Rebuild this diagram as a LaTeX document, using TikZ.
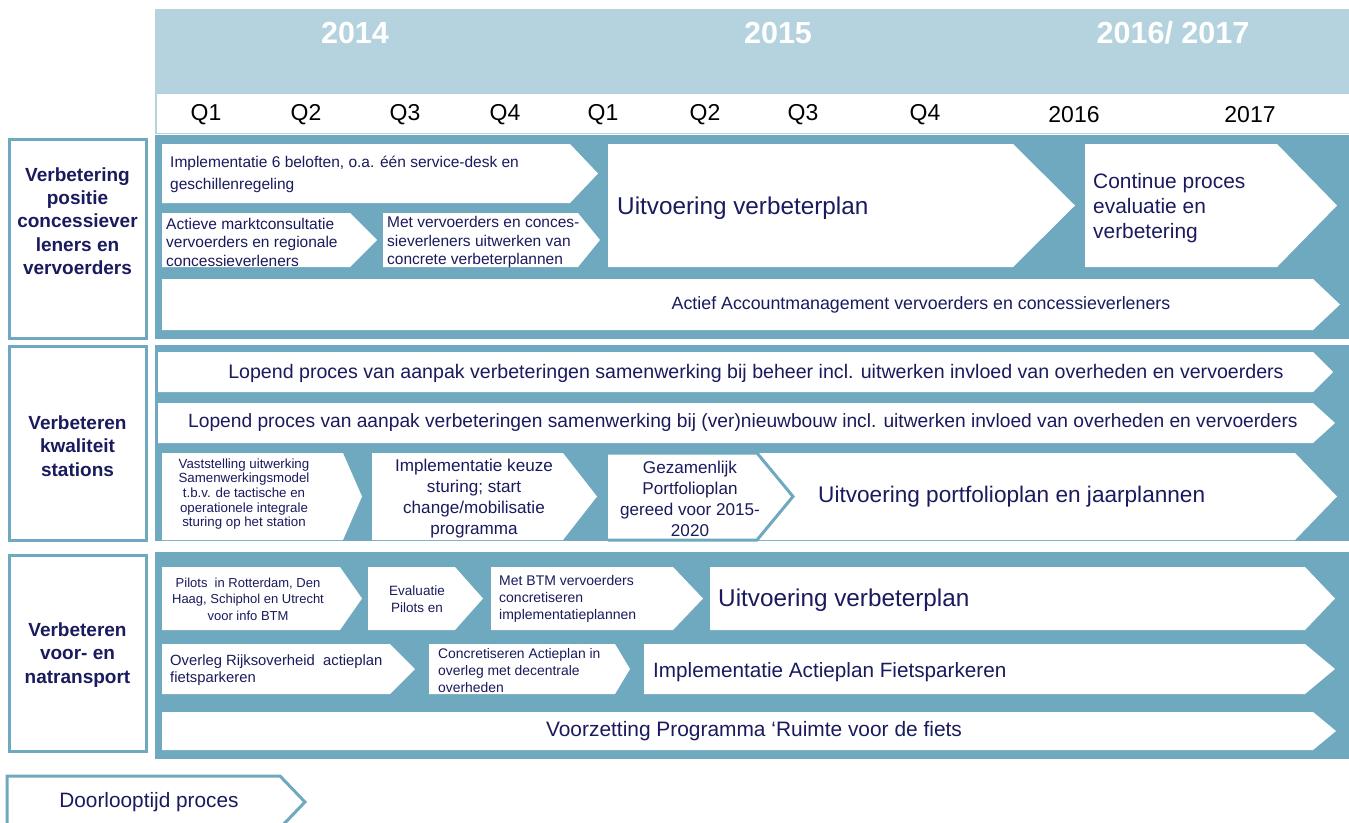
\documentclass[tikz,border=0pt]{standalone}
\usepackage{fontspec}
\setmainfont{Liberation Sans}
\definecolor{band}{RGB}{111,169,191}
\definecolor{head}{RGB}{180,211,222}
\definecolor{navy}{RGB}{26,26,94}
\newcommand\chv[6][white]{\fill[#1] (#2,#3) -- (#4,#3) -- (#5,{(#3+#6)/2}) -- (#4,#6) -- (#2,#6) -- cycle;}
\tikzset{
  txt/.style={inner sep=0pt, text=navy, font=\fontsize{15.5}{19}\selectfont},
  lbl/.style={inner sep=0pt, text=navy, align=center, font=\bfseries\fontsize{19}{23.3}\selectfont},
  yr/.style={inner sep=0pt, text=white, font=\bfseries\fontsize{30.5}{34}\selectfont},
  qt/.style={inner sep=0pt, text=black, font=\fontsize{23}{26}\selectfont},
  lbox/.style={draw=band, line width=3pt, fill=white},
}
\begin{document}
\begin{tikzpicture}[x=1pt,y=-1pt]
\useasboundingbox (0,0) rectangle (1349,822);
% header
\fill[head] (156,9) rectangle (1349,94);
\draw[head, line width=1.5pt] (156,9) -- (156,134);
\draw[head, line width=1pt] (156,133) -- (1349,133);
\node[yr] (y14) at (355,33) {2014};
\node[yr] (y15) at (778,33) {2015};
\node[yr] (y16) at (1173,33) {2016/ 2017};
\node[qt] (q1) at (206,115) {Q1};
\node[qt] (q2) at (306,115) {Q2};
\node[qt] (q3) at (405,115) {Q3};
\node[qt] (q4) at (505,115) {Q4};
\node[qt] (q5) at (603,115) {Q1};
\node[qt] (q6) at (705,115) {Q2};
\node[qt] (q7) at (803,115) {Q3};
\node[qt] (q8) at (925,115) {Q4};
\node[qt] (q9) at (1074,115) {2016};
\node[qt] (q10) at (1250,115) {2017};
% bands
\fill[band] (155,135) rectangle (1349,339);
\fill[band] (155,345) rectangle (1349,541);
\fill[band] (155,552) rectangle (1349,759);
% label boxes
\draw[lbox] (9,139) rectangle (146,338);
\draw[lbox] (9,346) rectangle (146,540);
\draw[lbox] (9,555) rectangle (146,751);
\node[lbl] (l1) at (77.5,221) {Verbetering\\positie\\concessiever\\leners en\\vervoerders};
\node[lbl] (l2) at (77.5,446) {Verbeteren\\kwaliteit\\stations};
\node[lbl] (l3) at (77.5,655) {Verbeteren\\voor- en\\natransport};
% band 1
\chv{162}{144}{570}{598}{203}
\chv{162}{213}{350}{377}{267}
\chv{383}{213}{578}{600}{267}
\chv{608}{144}{1013}{1075}{267}
\chv{1085}{144}{1277}{1337}{267}
\chv{162}{279}{1313}{1340}{330}
\node[txt, anchor=west, align=left, font=\fontsize{15.5}{22}\selectfont] (a1) at (170,174) {Implementatie 6 beloften, o.a. één service-desk en\\geschillenregeling};
\node[txt, anchor=west, align=left, font=\fontsize{15.5}{18.5}\selectfont] (a2) at (166,242) {Actieve marktconsultatie\\vervoerders en regionale\\concessieverleners};
\node[txt, anchor=west, align=left, font=\fontsize{15.5}{18.5}\selectfont] (a3) at (387,242) {Met vervoerders en conces-\\sieverleners uitwerken van\\concrete verbeterplannen};
\node[txt, anchor=west, font=\fontsize{24.3}{28}\selectfont] (a4) at (617,208) {Uitvoering verbeterplan};
\node[txt, anchor=west, align=left, font=\fontsize{20.9}{25}\selectfont] (a5) at (1093,208) {Continue proces\\evaluatie en\\verbetering};
\node[txt, font=\fontsize{17.8}{20}\selectfont] (a6) at (921,305) {Actief Accountmanagement vervoerders en concessieverleners};
% band 2
\chv{158}{352}{1313}{1333}{392}
\chv{158}{403}{1313}{1335}{443}
\chv{162}{453}{343}{362}{540}
\chv{372}{453}{563}{597}{540}
\chv{740}{453}{1295}{1337}{540}
\filldraw[fill=white, draw=band, line width=3pt] (608,453) -- (757,453) -- (793,496.5) -- (757,540) -- (608,540);
\node[txt, font=\fontsize{19.6}{22}\selectfont] (b1) at (756,373) {Lopend proces van aanpak verbeteringen samenwerking bij beheer incl. uitwerken invloed van overheden en vervoerders};
\node[txt, font=\fontsize{19.2}{22}\selectfont] (b2) at (743,423) {Lopend proces van aanpak verbeteringen samenwerking bij (ver)nieuwbouw incl. uitwerken invloed van overheden en vervoerders};
\node[txt, align=center, font=\fontsize{13.3}{14.6}\selectfont] (b3) at (244,494) {Vaststelling uitwerking\\Samenwerkingsmodel\\t.b.v. de tactische en\\operationele integrale\\sturing op het station};
\node[txt, align=center, font=\fontsize{17.1}{21}\selectfont] (b4) at (474,499) {Implementatie keuze\\sturing; start\\change/mobilisatie\\programma};
\node[txt, align=center, font=\fontsize{17.1}{21}\selectfont] (b5) at (690,499) {Gezamenlijk\\Portfolioplan\\gereed voor 2015-\\2020};
\node[txt, anchor=west, font=\fontsize{22.6}{26}\selectfont] (b6) at (818,497) {Uitvoering portfolioplan en jaarplannen};
% band 3
\chv{162}{567}{340}{362}{630}
\chv{368}{567}{455}{483}{630}
\chv{491}{567}{673}{703}{630}
\chv{710}{567}{1305}{1335}{630}
\chv{162}{644}{390}{415}{694}
\chv{429}{644}{615}{630}{694}
\chv{644}{644}{1305}{1335}{694}
\chv{162}{712}{1313}{1336}{750}
\node[txt, align=center, font=\fontsize{13}{16.5}\selectfont] (c1) at (248,599) {Pilots\ \ in Rotterdam, Den\\Haag, Schiphol en Utrecht\\voor info BTM};
\node[txt, align=center, font=\fontsize{13.5}{17.5}\selectfont] (c2) at (417,599) {Evaluatie\\Pilots en};
\node[txt, anchor=west, align=left, font=\fontsize{14}{17}\selectfont] (c3) at (499,599) {Met BTM vervoerders\\concretiseren\\implementatieplannen};
\node[txt, anchor=west, font=\fontsize{24.3}{28}\selectfont] (c4) at (718,600) {Uitvoering verbeterplan};
\node[txt, anchor=west, align=left, font=\fontsize{14.8}{17}\selectfont] (c5) at (170,670) {Overleg Rijksoverheid\ \ actieplan\\fietsparkeren};
\node[txt, anchor=west, align=left, font=\fontsize{13.9}{17}\selectfont] (c6) at (438,671) {Concretiseren Actieplan in\\overleg met decentrale\\overheden};
\node[txt, anchor=west, font=\fontsize{20.7}{24}\selectfont] (c7) at (653,672) {Implementatie Actieplan Fietsparkeren};
\node[txt, font=\fontsize{20.9}{24}\selectfont] (c8) at (754,731) {Voorzetting Programma ‘Ruimte voor de fiets};
% legend
\filldraw[fill=white, draw=band, line width=3pt] (7,832) -- (7,776) -- (280,776) -- (305,802) -- (280,828);
\node[txt, font=\fontsize{20.8}{24}\selectfont] (lg) at (149,802) {Doorlooptijd proces};
\end{tikzpicture}
\end{document}
